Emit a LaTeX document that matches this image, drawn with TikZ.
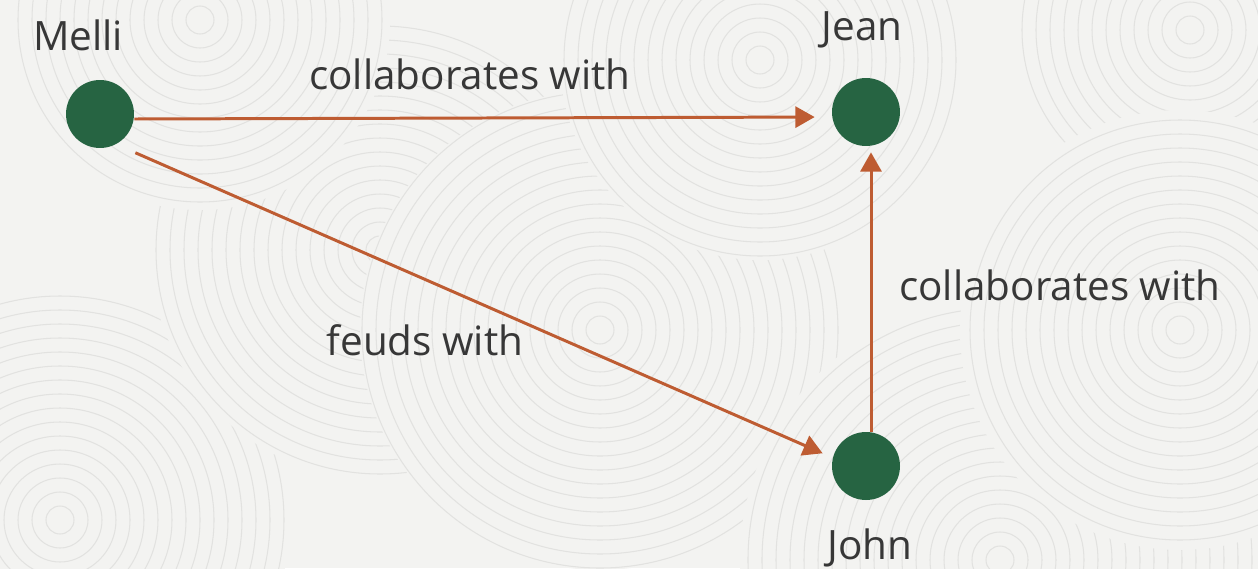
\documentclass[tikz,border=0pt]{standalone}
\usepackage{fontspec}
\setmainfont{Open Sans}
\usetikzlibrary{arrows.meta}
\begin{document}
\begin{tikzpicture}[x=0.02cm,y=-0.02cm]
    \definecolor{paper}{RGB}{243,243,241};
    \definecolor{swirl}{RGB}{226,226,224};
    \definecolor{leafgreen}{RGB}{38,100,66};
    \definecolor{rust}{RGB}{190,92,50};
    \definecolor{ink}{RGB}{55,55,55};
\fill [paper] (0,0) rectangle (1258,568);
% background swirls
\begin{scope}
\clip (0,0) rectangle (1258,568);
\foreach \cx/\cy/\r in {60/520/230, 380/250/230, 600/330/240, 1000/560/260, 760/60/200, 1190/30/180, 1180/330/220, 200/20/190} {
    \fill [paper] (\cx,\cy) circle (\r);
    \foreach \k in {14,28,...,\r} {
        \draw [swirl,line width=0.6pt] (\cx,\cy) circle (\k);
    }
}
\end{scope}
\tikzstyle{person}=[draw=none,shape=circle,fill=leafgreen,minimum size=1.36cm,inner sep=0pt];
\tikzstyle{tag}=[text=ink,font=\fontsize{23}{27}\selectfont];
\tikzstyle{rel}=[rust,line width=1.7pt,-{Triangle[length=11pt,width=12pt]}];
\node [person] (melli) at (100,114) {};
\node [person] (jean) at (866,112) {};
\node [person] (john) at (866,466) {};
\node [tag] (melliname) at (78,35) {Melli};
\node [tag] (jeanname) at (862,30) {Jean};
\node [tag] (johnname) at (870,548) {John};
\draw [rel,shorten >=17*0.02cm] ([yshift=-0.1cm]melli.east) -- ([yshift=-0.1cm]jean.west);
\draw [rel,shorten <=21*0.02cm,shorten >=11*0.02cm] (melli.-62) -- (john.166);
\draw [rel,shorten >=6*0.02cm] ([xshift=0.1cm]john.north) -- ([xshift=0.1cm]jean.south);
\node [tag] (collab1) at (470,74) {collaborates with};
\node [tag] (feuds) at (425,340) {feuds with};
\node [tag] (collab2) at (1060,285) {collaborates with};
\end{tikzpicture}
\end{document}
